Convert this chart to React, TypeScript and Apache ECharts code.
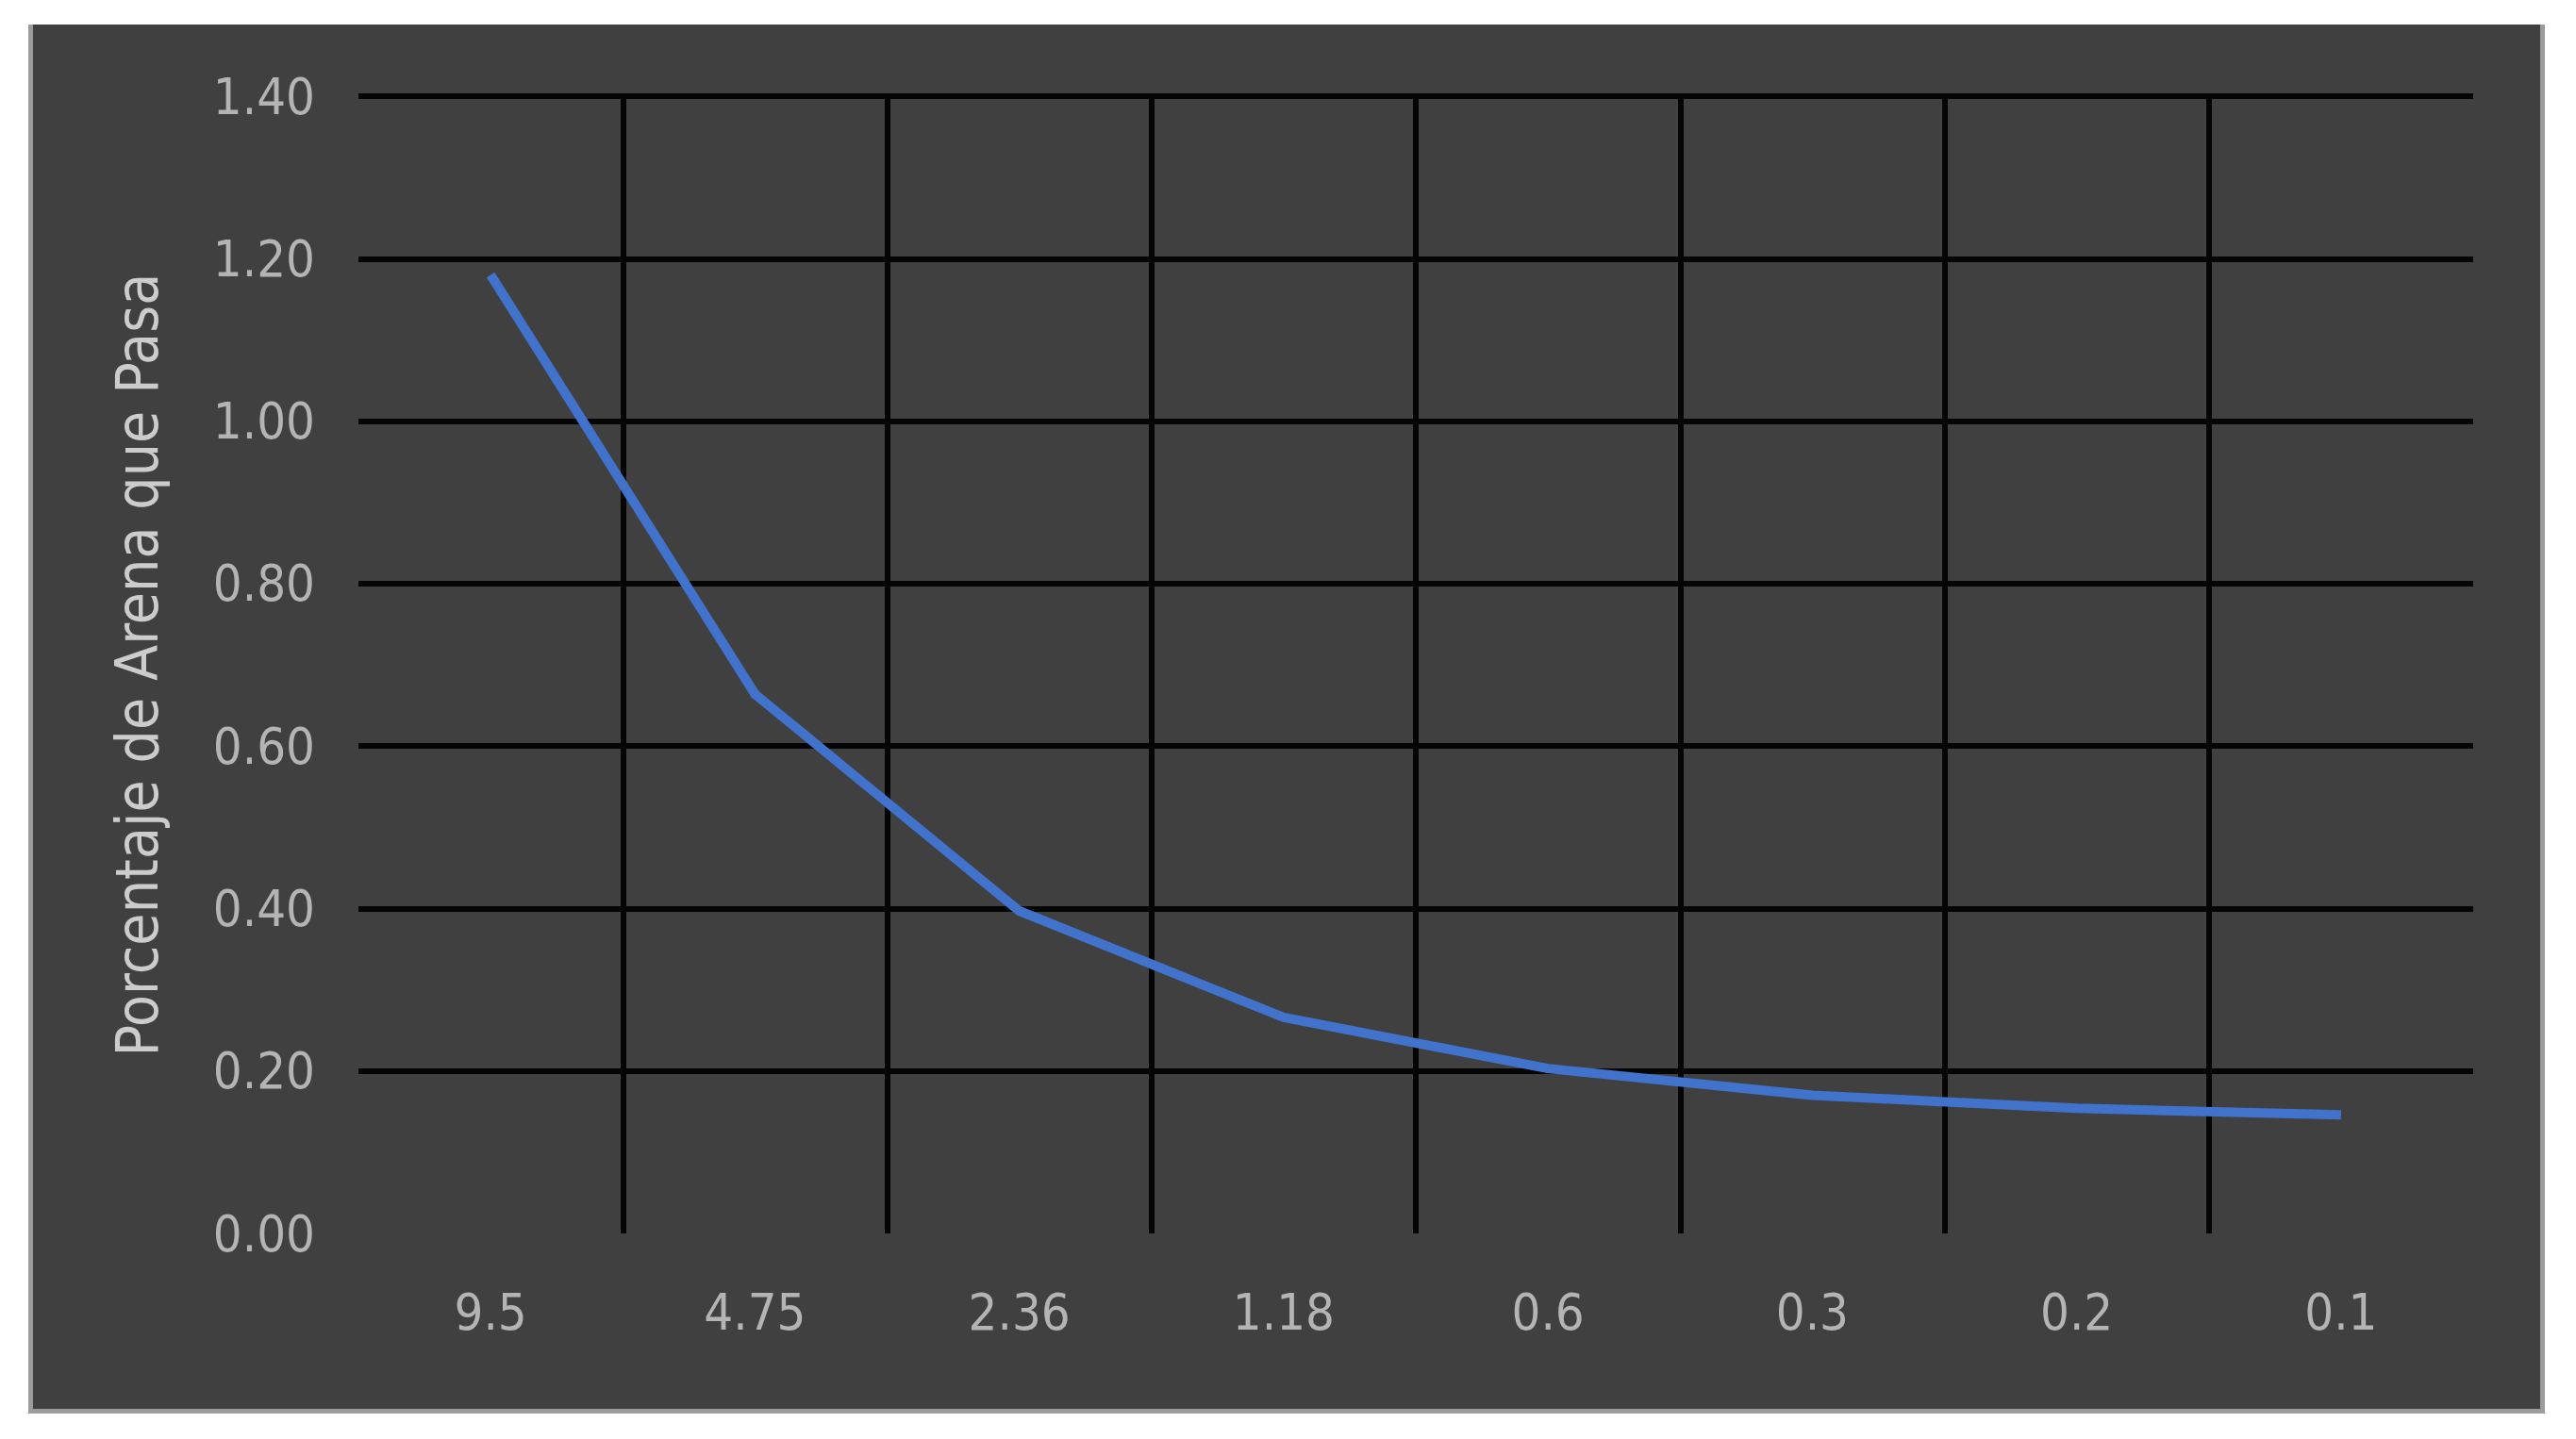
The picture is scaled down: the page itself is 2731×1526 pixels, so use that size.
import React, { useEffect, useRef } from "react";
import * as echarts from "echarts";

const categories = ["9.5", "4.75", "2.36", "1.18", "0.6", "0.3", "0.2", "0.1"];
const values = [1.18, 0.664, 0.397, 0.266, 0.203, 0.17, 0.154, 0.146];
const yAxisTitle = "Porcentaje de Arena que Pasa";
const yMin = 0;
const yMax = 1.4;
const yInterval = 0.2;

const W = 2731;
const H = 1526;

export default function App() {
  const ref = useRef<HTMLDivElement>(null);
  useEffect(() => {
    document.body.style.margin = "0";
    const chart = echarts.init(ref.current!, null, { renderer: "svg" });
    const font = "'DejaVu Sans Condensed', 'DejaVu Sans', sans-serif";
    chart.setOption({
      animation: false,
      backgroundColor: "#ffffff",
      graphic: [
        {
          type: "rect",
          z: -10,
          silent: true,
          shape: { x: 31, y: 26, width: 2666, height: 1471 },
          style: { fill: "#404040" },
        },
        {
          type: "polyline",
          z: -9,
          silent: true,
          shape: { points: [[32.5, 26], [32.5, 1496.5], [2695.5, 1496.5], [2695.5, 26]] },
          style: { stroke: "#9c9c9c", lineWidth: 5, fill: null },
        },
      ],
      grid: { left: 380, right: 109, top: 102, bottom: 218, containLabel: false },
      xAxis: {
        type: "category",
        data: categories,
        boundaryGap: true,
        axisLine: { show: false },
        axisTick: { show: false },
        axisLabel: { color: "#b4b4b4", fontSize: 54, fontFamily: font, margin: 56 },
        splitLine: {
          show: true,
          showMinLine: false,
          showMaxLine: false,
          lineStyle: { color: "#050505", width: 6 },
        },
      },
      yAxis: {
        type: "value",
        min: yMin,
        max: yMax,
        interval: yInterval,
        name: yAxisTitle,
        nameLocation: "middle",
        nameGap: 204,
        nameTextStyle: { color: "#cccccc", fontSize: 62, fontFamily: font },
        axisLine: { show: false },
        axisTick: { show: false },
        axisLabel: {
          color: "#b4b4b4",
          fontSize: 54,
          fontFamily: font,
          margin: 46,
          formatter: (v: number) => v.toFixed(2),
        },
        splitLine: {
          show: true,
          showMinLine: false,
          showMaxLine: true,
          lineStyle: { color: "#050505", width: 6 },
        },
      },
      series: [
        {
          type: "line",
          data: values,
          symbol: "none",
          lineStyle: { color: "#4273cc", width: 10, cap: "butt", join: "round" },
        },
      ],
    });
    return () => chart.dispose();
  }, []);
  return <div ref={ref} style={{ width: W, height: H, position: "absolute", left: 0, top: 0 }} />;
}
